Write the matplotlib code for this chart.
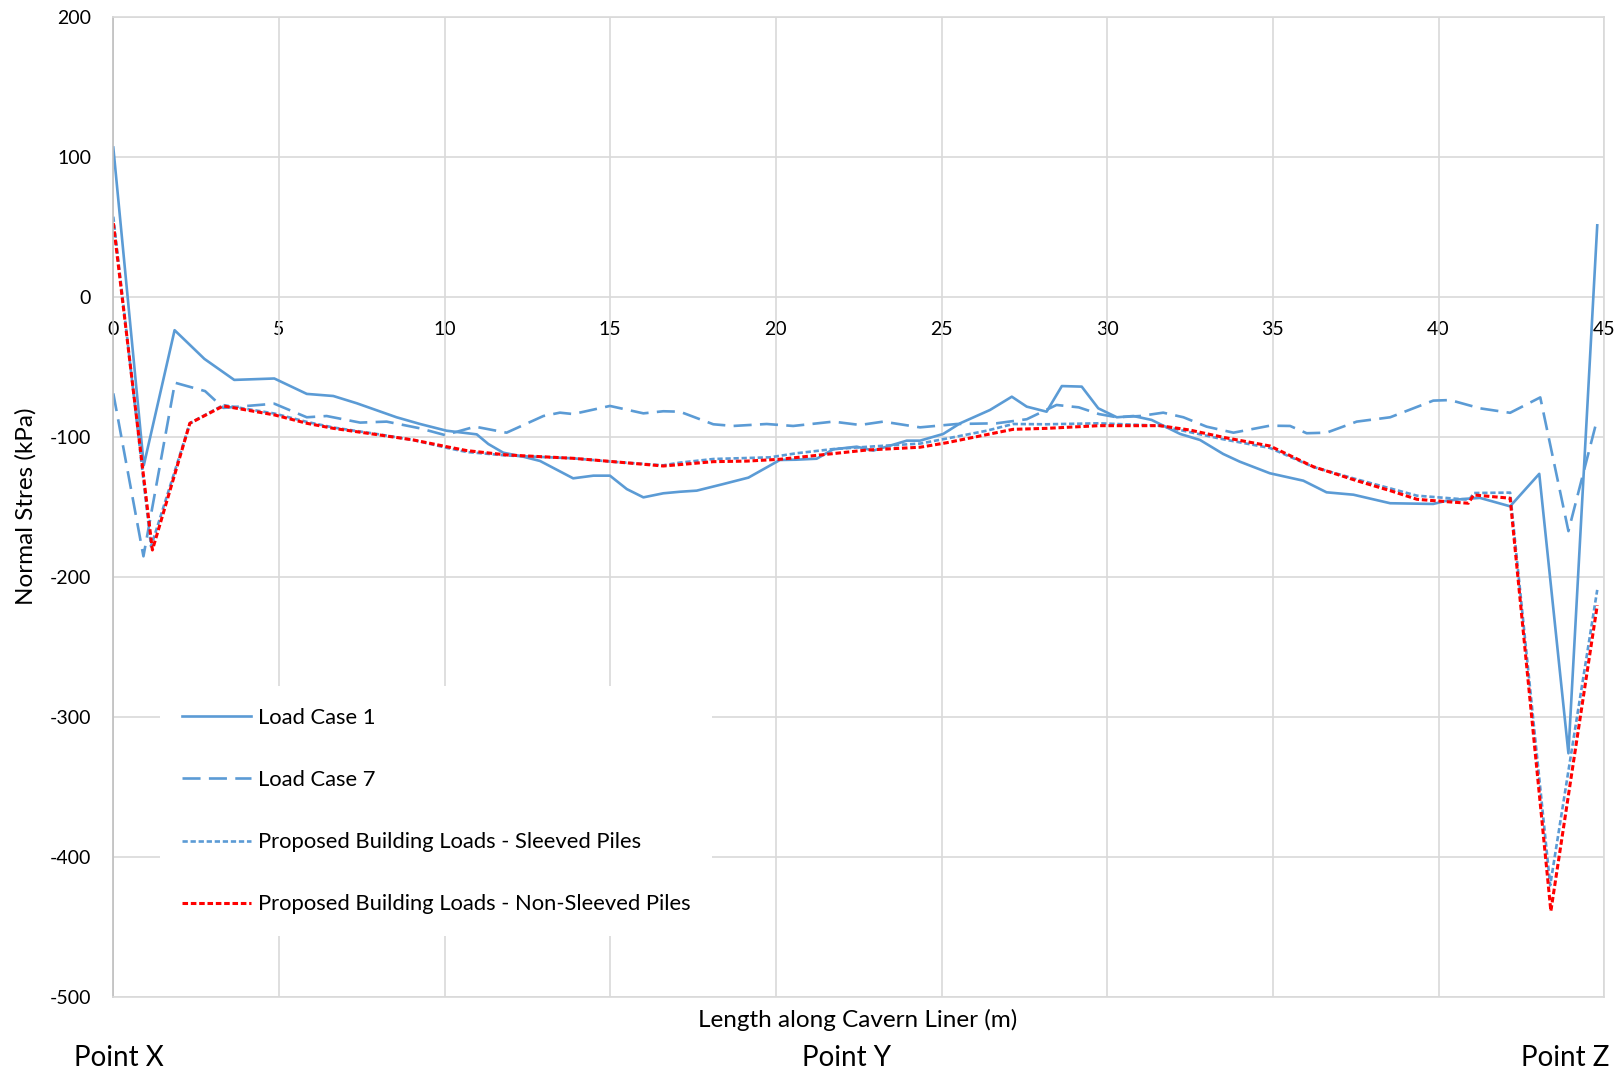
import matplotlib
matplotlib.use("Agg")
import matplotlib.pyplot as plt
from matplotlib.lines import Line2D

plt.rcParams['font.family'] = ['Lato', 'DejaVu Sans']
plt.rcParams['lines.scale_dashes'] = False

# ---- data ----
lc1_x = [0, 0.92, 1.85, 2.75, 3.2, 3.65, 4.86, 5.84, 6.64, 7.35, 8.55, 9.26, 10.06, 10.97, 11.32,
         11.77, 12.38, 12.88, 13.88, 14.49, 14.99, 15.5, 16.0, 16.6, 17.1, 17.61, 18.41, 19.17,
         20.12, 20.6, 21.23, 21.73, 22.44, 22.94, 23.95, 24.35, 25.05, 25.56, 26.46, 27.12, 27.57,
         28.17, 28.63, 29.23, 29.73, 30.29, 30.79, 31.34, 32.2, 32.8, 33.5, 34.0, 34.91, 35.92,
         36.62, 37.43, 38.54, 39.84, 40.25, 40.77, 41.25, 42.16, 43.04, 43.92, 44.79]
lc1_y = [107, -120, -23.5, -44, -51.5, -59, -58, -69, -70.5, -75.7, -85.7, -90.5, -95.3, -97.9, -104.8,
         -111, -113.9, -116.9, -129.3, -127.4, -127.4, -137, -142.9, -140, -138.9, -138.1, -133.4, -128.8,
         -116.2, -116, -115.3, -108.6, -106.7, -109.5, -102.4, -102.4, -97.6, -90, -80.5, -71, -78.1,
         -81.7, -63.4, -63.8, -79.3, -85.7, -84.8, -87.6, -97.6, -101.9, -111.9, -117.4, -125.7, -131,
         -139.3, -141, -147.1, -147.6, -145.3, -144, -143.3, -149.3, -126.1, -325.7, 51.4]

lc7_x = [0, 0.91, 1.86, 2.77, 3.32, 4.86, 5.84, 6.44, 7.45, 8.25, 9.26, 10.01, 10.92, 11.87, 12.98,
         13.48, 13.88, 14.99, 16.0, 16.6, 17.1, 18.11, 18.71, 19.72, 20.52, 21.73, 22.54, 23.24, 24.35,
         25.46, 26.66, 27.57, 28.47, 29.14, 29.75, 30.29, 30.99, 31.69, 32.3, 33.0, 33.81, 34.91, 35.52,
         36.02, 36.62, 37.53, 38.54, 39.84, 40.35, 41.25, 42.16, 43.07, 43.92, 44.79]
lc7_y = [-68.6, -185, -61, -67, -79, -76, -85.7, -84.8, -89.5, -88.8, -93.6, -98.4, -92.4, -96.7, -84.8,
         -82.4, -83.4, -77.6, -82.9, -81.4, -81.7, -90.7, -91.9, -90.5, -91.9, -88.8, -91.2, -88.8, -92.9,
         -90.5, -90, -87.1, -76.9, -78.6, -83.4, -85.7, -84.8, -82.4, -85.7, -92.4, -96.7, -91.7, -91.9,
         -97.1, -96.7, -88.8, -85.7, -73.8, -73.4, -79.3, -82.5, -71.5, -167, -86.9]

slv_x = [0, 1.14, 2.31, 3.32, 4.86, 5.84, 6.64, 8.05, 9.06, 10.06, 10.67, 11.87, 13.88, 15.09, 16.6,
         17.1, 18.11, 19.82, 20.62, 21.73, 23.14, 24.35, 25.15, 26.36, 27.16, 28.17, 29.75, 31.59,
         33.5, 34.91, 36.22, 37.53, 38.54, 39.35, 40.92, 41.07, 42.16, 43.37, 44.79]
slv_y = [57.6, -178, -90, -77, -83, -89, -93, -98, -102, -107.5, -110.5, -113, -115, -117.5, -120,
         -118.1, -115.5, -114.3, -111.4, -108.4, -106.2, -104.5, -100.9, -95.3, -90.5, -90.7, -90, -91.7,
         -101.4, -107.6, -121.2, -130, -136.5, -141.7, -144.6, -139.8, -139.5, -420, -209]

nsl_x = [0, 1.18, 2.31, 3.32, 4.86, 5.84, 6.64, 8.05, 9.06, 10.06, 10.67, 11.87, 13.88, 15.09, 16.6,
         17.1, 18.11, 19.12, 20.12, 21.63, 22.74, 24.35, 25.15, 26.15, 27.16, 28.17, 29.75, 30.19,
         31.59, 32.49, 33.5, 34.91, 36.22, 37.53, 38.54, 39.35, 40.25, 40.9, 41.06, 42.16, 43.39, 44.79]
nsl_y = [53, -180.5, -90, -77.6, -84, -90, -93.6, -98.4, -101.9, -106.7, -109.5, -112.6, -115, -117.4,
         -120.5, -119.5, -117.4, -117, -115.7, -111.9, -109.1, -107.1, -103.9, -99.1, -94.3, -93.6, -91.7,
         -91.7, -91.7, -94.8, -100, -106.2, -121, -131, -138.1, -144.3, -146, -147.1, -141.2, -143.5,
         -438.4, -220]

labels = ["Load Case 1", "Load Case 7",
          "Proposed Building Loads - Sleeved Piles",
          "Proposed Building Loads - Non-Sleeved Piles"]
x_ticks = list(range(0, 46, 5))
y_ticks = list(range(-500, 201, 100))
point_labels = ["Point X", "Point Y", "Point Z"]

BLUE = "#5B9BD5"
RED = "#FF0000"
GRID = "#D9D9D9"

fig = plt.figure(figsize=(16.2, 10.74), dpi=100)
ax = fig.add_axes([113.3 / 1620, 1 - 997.3 / 1074, (1604.2 - 113.3) / 1620, (997.3 - 17.3) / 1074])

l1, = ax.plot(lc1_x, lc1_y, color=BLUE, lw=1.9, solid_joinstyle='round', label=labels[0])
l7, = ax.plot(lc7_x, lc7_y, color=BLUE, lw=1.9, linestyle=(0, (13, 6)), label=labels[1])
ls, = ax.plot(slv_x, slv_y, color=BLUE, lw=1.9, linestyle=(0, (3.8, 2)), label=labels[2])
ln, = ax.plot(nsl_x, nsl_y, color=RED, lw=2.2, linestyle=(0, (4, 2)), label=labels[3])

ax.set_xlim(0, 45)
ax.set_ylim(-500, 200)
ax.set_yticks(y_ticks)
ax.set_xticks(x_ticks)
ax.set_yticklabels([str(v) for v in y_ticks], fontsize=14)
ax.tick_params(axis='y', length=0, pad=16)
ax.tick_params(axis='x', length=0, labelbottom=False)
ax.grid(True, color=GRID, lw=1.2)
ax.set_axisbelow(True)
for s in ax.spines.values():
    s.set_color(GRID)
    s.set_linewidth(1.2)
ax.spines['left'].set_color("#BFBFBF")

sec = ax.secondary_xaxis(0, transform=ax.transData)
sec.set_xticks(x_ticks)
sec.set_xticklabels([str(v) for v in x_ticks], fontsize=14)
sec.tick_params(axis='x', length=0, pad=17)
sec.spines['bottom'].set_visible(False)

leg = ax.legend(handles=[l1, l7, ls, ln], loc='upper left',
                bbox_to_anchor=(160 / 1620, 1 - 686 / 1074), bbox_transform=fig.transFigure,
                fontsize=15.8, frameon=True, fancybox=False, framealpha=1,
                facecolor='white', edgecolor='none', handlelength=3.15, handletextpad=0.3,
                labelspacing=1.92, borderpad=1.0, borderaxespad=0)
leg.set_zorder(5)

fig.text(858 / 1620, 1 - 1020 / 1074, "Length along Cavern Liner (m)", fontsize=17.5,
         ha='center', va='center')
fig.text(26 / 1620, 1 - 506 / 1074, "Normal Stres (kPa)", fontsize=17.5, rotation=90,
         ha='center', va='center')
for lab, xp in zip(point_labels, [119, 847, 1565]):
    fig.text(xp / 1620, 1 - 1058 / 1074, lab, fontsize=20, ha='center', va='center')

fig.savefig("out.png", dpi=100)
